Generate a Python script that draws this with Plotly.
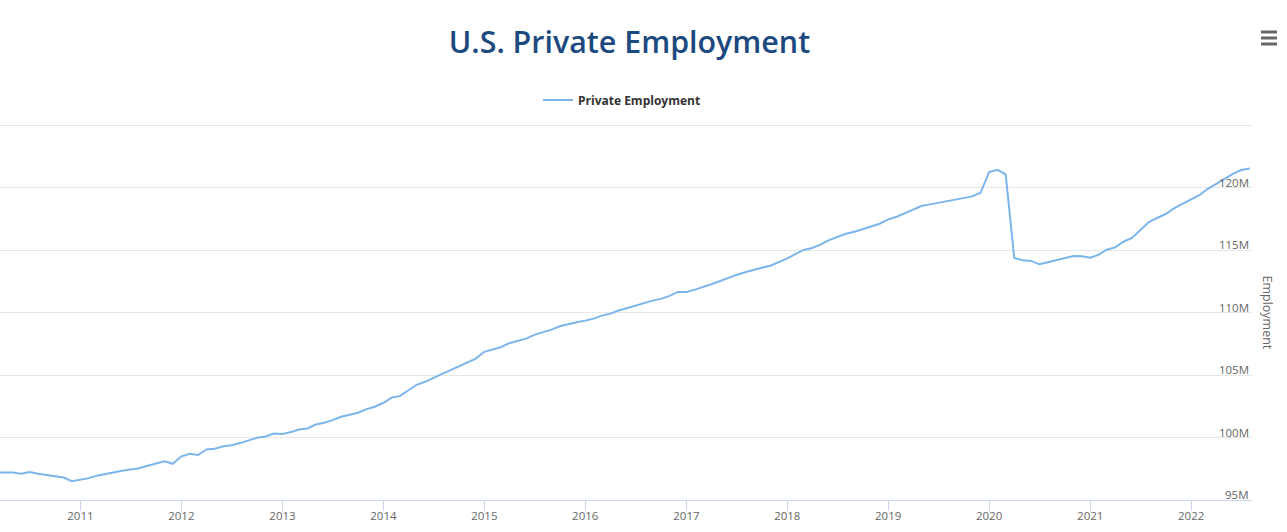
import plotly.graph_objects as go
import pandas as pd

# Monthly dates: March 2010 through August 2022
start_month = "2010-03-01"
n_months = 150
months = pd.date_range(start_month, periods=n_months, freq="MS")

# Private employment, millions
employment_m = [
    # 2010 (Mar-Dec)
    97.2, 97.2, 97.2, 97.1, 97.25, 97.1, 97.0, 96.9, 96.8, 96.5,
    # 2011
    96.65, 96.75, 96.95, 97.1, 97.2, 97.35, 97.45, 97.55, 97.75, 97.95, 98.1, 97.9,
    # 2012
    98.5, 98.7, 98.6, 99.05, 99.1, 99.3, 99.38, 99.56, 99.77, 99.99, 100.09, 100.33,
    # 2013
    100.28, 100.44, 100.65, 100.73, 101.05, 101.19, 101.4, 101.67, 101.83, 101.99, 102.28, 102.47,
    # 2014
    102.79, 103.21, 103.32, 103.8, 104.23, 104.47, 104.81, 105.11, 105.4, 105.72, 106.04, 106.33,
    # 2015
    106.87, 107.05, 107.24, 107.56, 107.75, 107.93, 108.23, 108.44, 108.65, 108.92, 109.11, 109.24,
    # 2016
    109.37, 109.53, 109.77, 109.93, 110.18, 110.39, 110.57, 110.76, 110.97, 111.11, 111.35, 111.67,
    # 2017
    111.67, 111.85, 112.04, 112.28, 112.52, 112.79, 113.03, 113.24, 113.45, 113.61, 113.77, 114.04,
    # 2018
    114.36, 114.71, 115.03, 115.19, 115.45, 115.82, 116.1, 116.33, 116.49, 116.71, 116.89, 117.13,
    # 2019
    117.48, 117.69, 117.96, 118.23, 118.55, 118.68, 118.81, 118.97, 119.08, 119.19, 119.32, 119.61,
    # 2020
    121.27, 121.45, 121.08, 114.39, 114.2, 114.15, 113.88, 114.05, 114.2, 114.39, 114.55, 114.52,
    # 2021
    114.41, 114.65, 115.05, 115.24, 115.69, 115.99, 116.63, 117.27, 117.61, 117.91, 118.39, 118.73,
    # 2022 (Jan-Aug)
    119.08, 119.45, 119.91, 120.33, 120.73, 121.13, 121.43, 121.56,
]
employment = [v * 1e6 for v in employment_m]

y_tick_vals = [95e6, 100e6, 105e6, 110e6, 115e6, 120e6, 125e6]
y_tick_text = ["", "100M", "105M", "110M", "115M", "120M", ""]
y_bottom_label = "95M"
y_range = [95e6, 125.12e6]

series_name = "Private Employment"
chart_title = "U.S. Private Employment"
y_title = "Employment"

FONT = "Open Sans"
LABEL_COLOR = "#666666"

fig = go.Figure()
fig.add_trace(go.Scatter(
    x=months, y=employment, mode="lines", name=series_name,
    line=dict(color="#7cb5ec", width=2), showlegend=True,
))

W, H = 1287, 532
ML, MR, MT, MB = 0, 35, 124, 32
PW = W - ML - MR
PH = H - MT - MB

def px_x(px):
    return (px - ML) / PW

def px_y(py):
    return (H - MB - py) / PH

fig.update_layout(
    width=W, height=H,
    margin=dict(l=ML, r=MR, t=MT, b=MB, pad=0),
    paper_bgcolor="white", plot_bgcolor="white",
    font=dict(family=FONT, color=LABEL_COLOR),
    title=dict(
        text=chart_title, x=px_x(629.5), xref="paper", xanchor="center",
        y=1 - 42 / H, yref="container", yanchor="middle",
        font=dict(family=FONT, size=30.4, color="#1c4a80", weight=600),
    ),
    legend=dict(
        orientation="h", x=px_x(622), xanchor="center",
        y=px_y(100), yanchor="middle",
        font=dict(family=FONT, size=12, color="#333333", weight="bold"),
        bgcolor="rgba(0,0,0,0)",
    ),
    xaxis=dict(
        type="date", range=["2010-03-16", "2022-08-09"],
        tick0="2010-01-01", dtick="M12", tickformat="%Y",
        ticks="outside", ticklen=10, tickcolor="#ccd6eb", tickwidth=1,
        showline=True, linecolor="#ccd6eb", linewidth=1,
        showgrid=False, zeroline=False,
        ticklabelstandoff=-5,
        tickfont=dict(family=FONT, size=11.5, color=LABEL_COLOR),
    ),
    yaxis=dict(
        side="right", range=y_range,
        tickmode="array", tickvals=y_tick_vals, ticktext=y_tick_text,
        showgrid=True, gridcolor="#e6e6e6", gridwidth=1,
        zeroline=False, showline=False, ticks="",
        ticklabelposition="inside", ticklabelshift=-5,
        tickfont=dict(family=FONT, size=11.5, color=LABEL_COLOR),
    ),
    hovermode="x",
)

# Bottom y tick label (sits on the x-axis line)
fig.add_annotation(
    text=y_bottom_label, showarrow=False,
    xref="paper", yref="y", x=1, y=y_tick_vals[0],
    xanchor="right", yanchor="middle", xshift=-1, yshift=6,
    font=dict(family=FONT, size=11.5, color=LABEL_COLOR),
)

# Rotated y-axis title on the right
fig.add_annotation(
    text=y_title, textangle=90, showarrow=False,
    xref="paper", yref="paper", x=px_x(1267), y=px_y(312.5),
    xanchor="center", yanchor="middle",
    font=dict(family=FONT, size=12.5, color=LABEL_COLOR),
)

# Context-menu (hamburger) icon
for bar_y in (32, 38, 44):
    fig.add_shape(
        type="line", xref="paper", yref="paper",
        x0=px_x(1261), x1=px_x(1277), y0=px_y(bar_y), y1=px_y(bar_y),
        line=dict(color="#666666", width=3),
    )

fig.write_html("out.html", config={"displayModeBar": False})
